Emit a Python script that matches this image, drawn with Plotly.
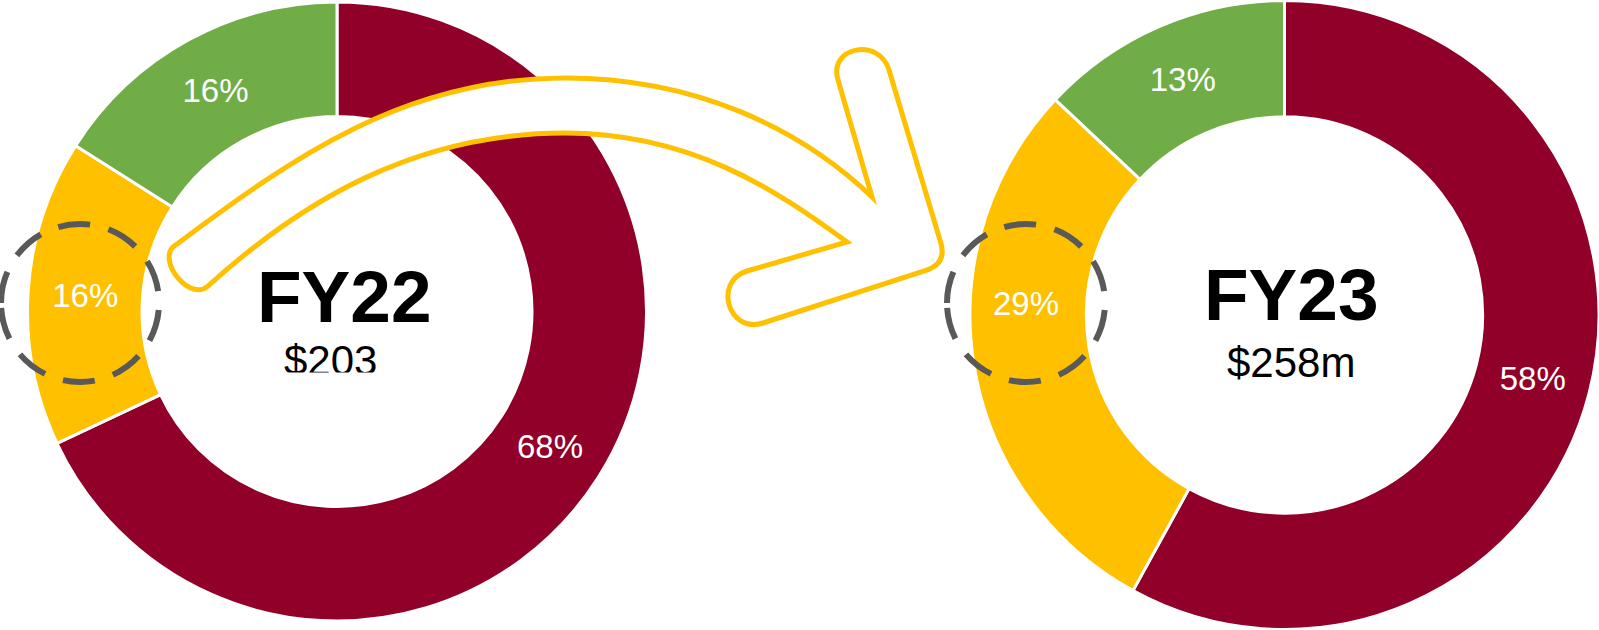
import plotly.graph_objects as go

W, H = 1599, 630

# ---- data ----
categories = ["Category A", "Category B", "Category C"]
fy22_values = [68, 16, 16]
fy23_values = [58, 29, 13]
colors = ["#910028", "#FFC000", "#70AD47"]
fy22_title, fy22_total = "FY22", "$203"
fy23_title, fy23_total = "FY23", "$258m"

FONT = "Liberation Sans, Arial, sans-serif"
LABEL_SIZE = 33


def px(x, y):
    return x / W, 1 - y / H


def path_from(cmds):
    out = []
    for c in cmds:
        letter, pts = c[0], c[1:]
        coords = []
        for (x, y) in pts:
            a, b = px(x, y)
            coords.append(f"{a:.5f},{b:.5f}")
        out.append(letter + " ".join(coords))
    return " ".join(out)


def pie(values, domx, domy, templates):
    return go.Pie(
        labels=categories, values=values, sort=False, direction="clockwise",
        rotation=0, hole=0.63,
        marker=dict(colors=colors, line=dict(color="white", width=3)),
        texttemplate=templates, textposition="inside",
        insidetextorientation="horizontal",
        textfont=dict(family=FONT, size=LABEL_SIZE, color="white"),
        domain=dict(x=domx, y=domy), showlegend=False, hoverinfo="label+value",
    )


fig = go.Figure()
fig.add_trace(pie(fy22_values, [(337 - 309.5) / W, (337 + 309.5) / W],
                  [(H - 311.5 - 309.5) / H, (H - 311.5 + 309.5) / H],
                  ["%{value}%"] * 3))
# FY23: middle slice label is placed inside the highlighted (dashed) circle
fig.add_trace(pie(fy23_values, [970 / W, 1.0], [0.0, 1.0],
                  ["%{value}%", "", "%{value}%"]))

# ---- curved arrow ----
arrow = [
    ("M", (173, 247)),
    ("C", (293, 157), (405, 78), (565, 78)),
    ("C", (695, 78), (800, 128), (872, 197)),
    ("L", (838, 80)),
    ("C", (828, 46.8), (879, 36.8), (889, 70)),
    ("L", (940.7, 242.5)),
    ("Q", (947, 263.6), (926, 270.4)),
    ("L", (763, 323)),
    ("C", (728.7, 334), (712.7, 282), (747, 271)),
    ("L", (847, 242)),
    ("C", (775, 189), (690, 133), (565, 133)),
    ("C", (415, 133), (302, 201), (208, 286)),
    ("C", (190, 302), (158, 262), (173, 247)),
]
shapes = [dict(type="path", xref="paper", yref="paper", layer="above",
               path=path_from(arrow) + " Z", fillcolor="white",
               line=dict(color="#FFC000", width=5))]


def dashed_circle(cx, cy, r):
    k = 0.5523 * r
    cmds = [
        ("M", (cx - r, cy)),
        ("C", (cx - r, cy - k), (cx - k, cy - r), (cx, cy - r)),
        ("C", (cx + k, cy - r), (cx + r, cy - k), (cx + r, cy)),
        ("C", (cx + r, cy + k), (cx + k, cy + r), (cx, cy + r)),
        ("C", (cx - k, cy + r), (cx - r, cy + k), (cx - r, cy)),
    ]
    return dict(type="path", xref="paper", yref="paper", layer="above",
                path=path_from(cmds),
                line=dict(color="#595959", width=6, dash="32px,19px"))


shapes.append(dashed_circle(80, 303, 79))
shapes.append(dashed_circle(1026, 303, 79))

annotations = []
for (title, total, cx, ty, sx, sy) in [
    (fy22_title, fy22_total, 344, 296, 330, 360),
    (fy23_title, fy23_total, 1291, 294, 1291, 362),
]:
    a, b = px(cx, ty)
    annotations.append(dict(x=a, y=b, xref="paper", yref="paper", text=f"<b>{title}</b>",
                            showarrow=False, font=dict(family=FONT, size=73, color="black"),
                            xanchor="center", yanchor="middle"))
    a, b = px(sx, sy)
    annotations.append(dict(x=a, y=b, xref="paper", yref="paper", text=total,
                            showarrow=False, font=dict(family=FONT, size=42, color="black"),
                            xanchor="center", yanchor="middle"))

# the FY22 total is cut off at its bottom edge in the original
a, b = px(330, 382)
annotations.append(dict(x=a, y=b, xref="paper", yref="paper", text=" ", showarrow=False,
                        bgcolor="white", width=120, height=18,
                        xanchor="center", yanchor="middle", borderpad=0))

# FY23 middle-slice label inside the dashed circle
a, b = px(1026, 303)
annotations.append(dict(x=a, y=b, xref="paper", yref="paper",
                        text=f"{fy23_values[1]}%", showarrow=False,
                        font=dict(family=FONT, size=LABEL_SIZE, color="white"),
                        xanchor="center", yanchor="middle"))

fig.update_layout(
    width=W, height=H, margin=dict(l=0, r=0, t=0, b=0),
    paper_bgcolor="white", plot_bgcolor="white",
    shapes=shapes, annotations=annotations,
)

fig.write_html("out.html")
